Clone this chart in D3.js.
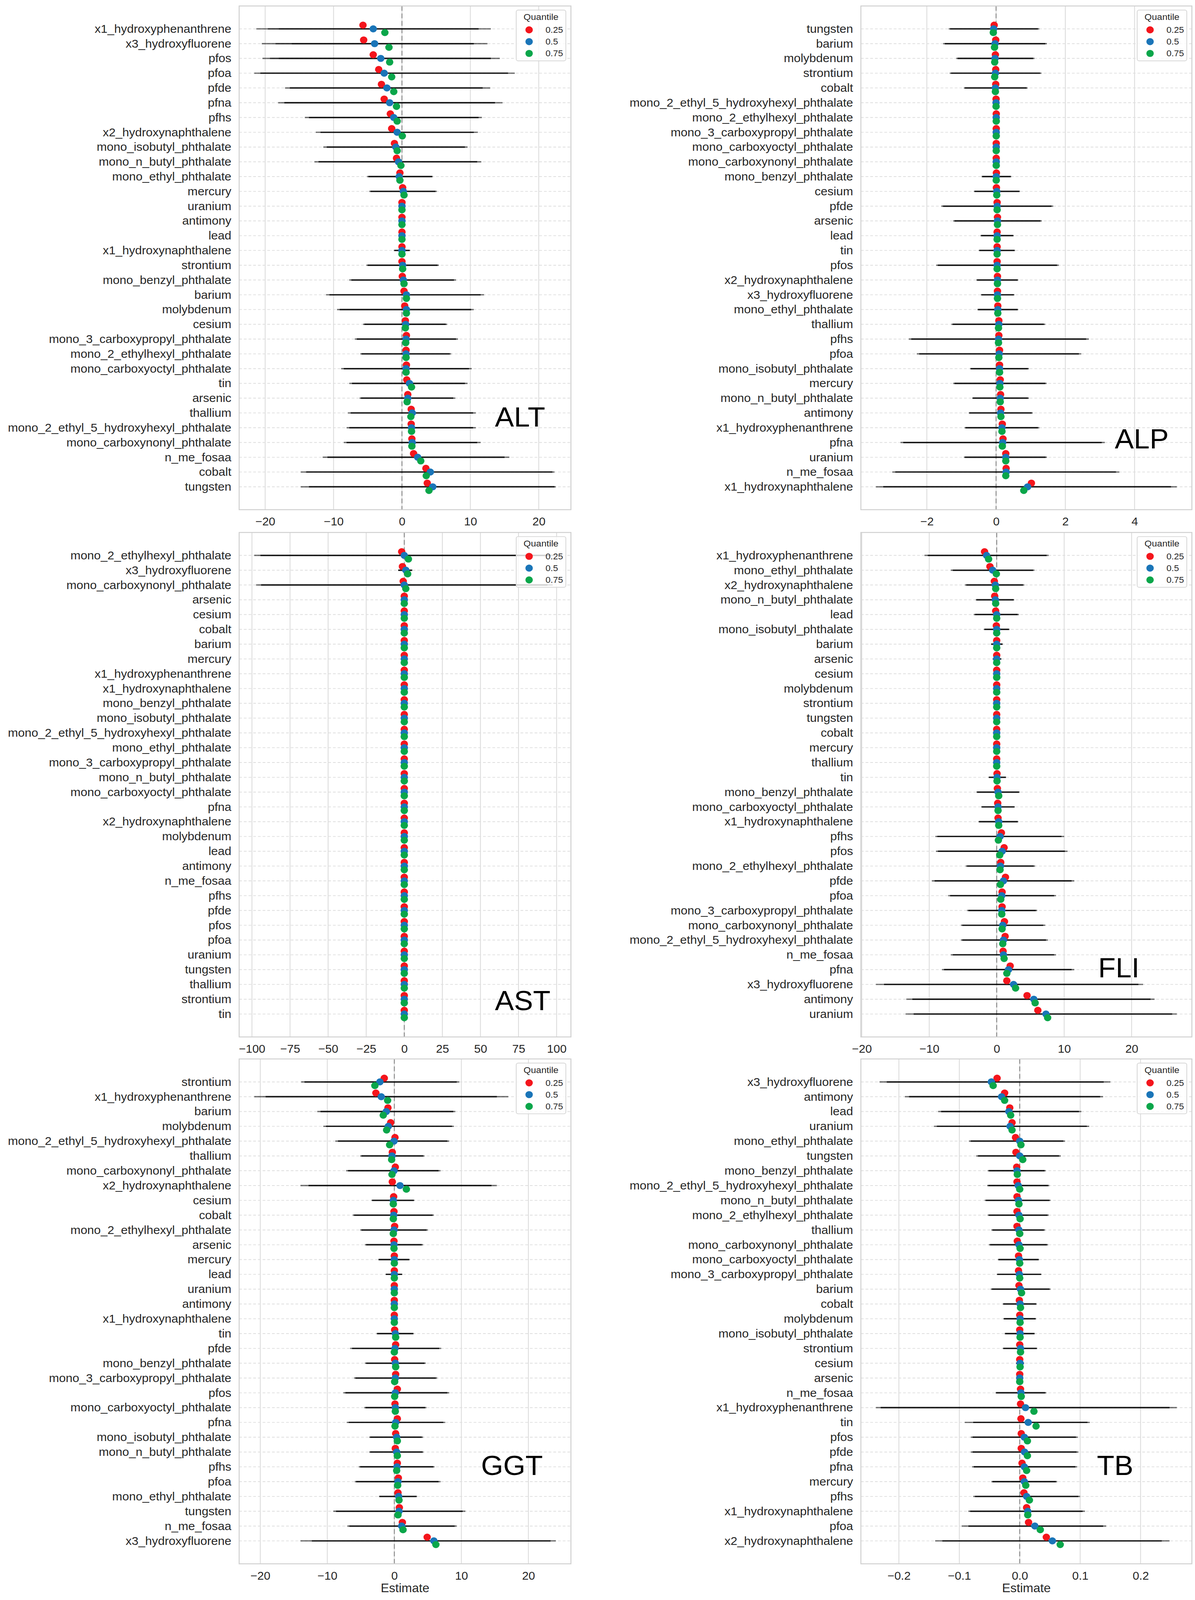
<!DOCTYPE html>
<html>
<head>
<meta charset="utf-8">
<script src="https://cdn.jsdelivr.net/npm/d3@7"></script>
<style>
  html, body { margin: 0; padding: 0; background: #fff; overflow: hidden; }
  svg { display: block; width: 100vw; height: 100vh; }
</style>
</head>
<body>
<svg id="chart"></svg>
<script>
// ---------- data ----------
const quantiles = ["0.25", "0.5", "0.75"];

const altNames = ["x1_hydroxyphenanthrene","x3_hydroxyfluorene","pfos","pfoa","pfde","pfna","pfhs","x2_hydroxynaphthalene","mono_isobutyl_phthalate","mono_n_butyl_phthalate","mono_ethyl_phthalate","mercury","uranium","antimony","lead","x1_hydroxynaphthalene","strontium","mono_benzyl_phthalate","barium","molybdenum","cesium","mono_3_carboxypropyl_phthalate","mono_2_ethylhexyl_phthalate","mono_carboxyoctyl_phthalate","tin","arsenic","thallium","mono_2_ethyl_5_hydroxyhexyl_phthalate","mono_carboxynonyl_phthalate","n_me_fosaa","cobalt","tungsten"];
const altEst = [[-5.7,-4.2,-2.5],[-5.6,-4.0,-1.9],[-4.2,-3.1,-1.8],[-3.4,-2.6,-1.5],[-3.0,-2.2,-1.2],[-2.6,-1.8,-0.8],[-1.7,-1.2,-0.7],[-1.5,-0.7,0.05],[-1.1,-0.9,-0.7],[-0.8,-0.5,-0.15],[-0.3,-0.4,-0.3],[0.1,0.2,0.3],[0,0,0],[0,0,0],[0,0,0],[0,0,0],[0,0.1,0.1],[0.05,0.2,0.3],[0.3,0.65,0.65],[0.4,0.65,0.65],[0.5,0.55,0.5],[0.65,0.6,0.55],[0.6,0.6,0.6],[0.65,0.6,0.6],[0.7,1.1,1.4],[0.85,0.85,0.75],[1.35,1.5,1.3],[1.35,1.4,1.4],[1.45,1.5,1.45],[1.7,2.3,2.75],[3.5,4.15,3.55],[3.7,4.5,3.95]];
const altLo = [[-21.3,-19.6,-18.0],[-20.5,-18.5,-16.1],[-20.4,-19.3,-18.0],[-21.6,-20.7,-20.7],[-17.1,-16.4,-16.4],[-18.1,-17.2,-17.2],[-14.2,-13.6,-13.6],[-12.6,-11.9,-11.9],[-11.5,-11.0,-11.0],[-12.8,-12.2,-12.2],[-5.1,-4.9,-4.9],[-4.8,-4.6,-4.6],[-0.3,-0.3,-0.3],[-0.3,-0.3,-0.3],[-0.3,-0.3,-0.3],[-1.2,-1.1,-1.1],[-5.2,-5.0,-5.0],[-7.7,-7.4,-7.4],[-11.1,-10.6,-10.6],[-9.5,-9.1,-9.1],[-5.7,-5.5,-5.5],[-6.9,-6.6,-6.6],[-6.1,-5.9,-5.9],[-8.9,-8.5,-8.5],[-7.7,-7.3,-7.3],[-6.2,-6.0,-6.0],[-7.9,-7.5,-7.5],[-8.1,-7.7,-7.7],[-8.5,-8.1,-8.1],[-11.6,-10.9,-10.9],[-14.8,-14.0,-14.0],[-14.8,-13.6,-13.6]];
const altHi = [[13.0,11.2,11.2],[12.5,10.5,10.5],[14.3,13.0,13.0],[16.5,15.5,15.5],[12.9,11.8,11.8],[14.7,13.6,13.6],[11.7,11.2,11.2],[11.1,10.5,10.5],[9.6,9.2,9.2],[11.6,11.0,11.0],[4.5,4.4,4.4],[5.1,4.9,4.9],[0.3,0.3,0.3],[0.3,0.3,0.3],[0.3,0.3,0.3],[1.2,1.1,1.1],[5.4,5.2,5.2],[7.9,7.6,7.6],[12.0,11.5,11.5],[10.5,10.1,10.1],[6.6,6.4,6.4],[8.2,7.9,7.9],[7.2,7.0,7.0],[10.2,9.8,9.8],[9.6,9.2,9.2],[7.8,7.5,7.5],[10.8,10.4,10.4],[10.8,10.4,10.4],[11.5,11.0,11.0],[15.7,15.0,15.0],[22.3,22.0,22.0],[22.5,22.3,22.3]];
const altTicks = [-20, -10, 0, 10, 20];

const alpNames = ["tungsten","barium","molybdenum","strontium","cobalt","mono_2_ethyl_5_hydroxyhexyl_phthalate","mono_2_ethylhexyl_phthalate","mono_3_carboxypropyl_phthalate","mono_carboxyoctyl_phthalate","mono_carboxynonyl_phthalate","mono_benzyl_phthalate","cesium","pfde","arsenic","lead","tin","pfos","x2_hydroxynaphthalene","x3_hydroxyfluorene","mono_ethyl_phthalate","thallium","pfhs","pfoa","mono_isobutyl_phthalate","mercury","mono_n_butyl_phthalate","antimony","x1_hydroxyphenanthrene","pfna","uranium","n_me_fosaa","x1_hydroxynaphthalene"];
const alpEst = [[-0.055,-0.07,-0.08],[-0.01,-0.03,-0.045],[-0.02,-0.03,-0.04],[-0.01,-0.02,-0.04],[-0.01,-0.02,-0.02],[0,0,0],[0.005,0.005,0.005],[0.005,0.005,0.005],[0.005,0.005,0.005],[0.005,0.005,0.005],[0.01,0.005,0.005],[0.01,0.02,0.02],[0.03,0.03,0.03],[0.04,0.04,0.04],[0.03,0.03,0.03],[0.03,0.03,0.03],[0.03,0.03,0.03],[0.04,0.04,0.04],[0.04,0.04,0.04],[0.05,0.05,0.05],[0.08,0.08,0.07],[0.08,0.07,0.07],[0.1,0.09,0.08],[0.1,0.1,0.1],[0.12,0.11,0.11],[0.13,0.12,0.12],[0.14,0.13,0.14],[0.18,0.17,0.17],[0.2,0.19,0.18],[0.28,0.28,0.28],[0.29,0.29,0.28],[1.02,0.91,0.8]];
const alpLo = [[-1.37,-1.33,-1.33],[-1.53,-1.48,-1.48],[-1.15,-1.11,-1.11],[-1.34,-1.3,-1.3],[-0.93,-0.9,-0.9],[-0.05,-0.05,-0.05],[-0.05,-0.05,-0.05],[-0.05,-0.05,-0.05],[-0.05,-0.05,-0.05],[-0.05,-0.05,-0.05],[-0.42,-0.4,-0.4],[-0.64,-0.62,-0.62],[-1.58,-1.53,-1.53],[-1.24,-1.2,-1.2],[-0.45,-0.43,-0.43],[-0.5,-0.48,-0.48],[-1.73,-1.68,-1.68],[-0.57,-0.55,-0.55],[-0.44,-0.42,-0.42],[-0.54,-0.52,-0.52],[-1.29,-1.25,-1.25],[-2.52,-2.45,-2.45],[-2.29,-2.22,-2.22],[-0.75,-0.73,-0.73],[-1.24,-1.2,-1.2],[-0.69,-0.67,-0.67],[-0.79,-0.77,-0.77],[-0.91,-0.88,-0.88],[-2.76,-2.68,-2.68],[-0.93,-0.9,-0.9],[-3.0,-2.91,-2.91],[-3.47,-3.26,-3.26]];
const alpHi = [[1.25,1.21,1.21],[1.47,1.42,1.42],[1.11,1.07,1.07],[1.31,1.27,1.27],[0.91,0.88,0.88],[0.05,0.05,0.05],[0.05,0.05,0.05],[0.05,0.05,0.05],[0.05,0.05,0.05],[0.05,0.05,0.05],[0.44,0.42,0.42],[0.69,0.67,0.67],[1.65,1.6,1.6],[1.32,1.28,1.28],[0.51,0.49,0.49],[0.55,0.53,0.53],[1.81,1.76,1.76],[0.64,0.62,0.62],[0.53,0.51,0.51],[0.64,0.62,0.62],[1.42,1.38,1.38],[2.68,2.6,2.6],[2.46,2.39,2.39],[0.95,0.92,0.92],[1.46,1.42,1.42],[0.95,0.92,0.92],[1.06,1.03,1.03],[1.25,1.21,1.21],[3.14,3.05,3.05],[1.47,1.43,1.43],[3.56,3.46,3.46],[5.22,5.05,5.05]];
const alpTicks = [-2, 0, 2, 4];

const astNames = ["mono_2_ethylhexyl_phthalate","x3_hydroxyfluorene","mono_carboxynonyl_phthalate","arsenic","cesium","cobalt","barium","mercury","x1_hydroxyphenanthrene","x1_hydroxynaphthalene","mono_benzyl_phthalate","mono_isobutyl_phthalate","mono_2_ethyl_5_hydroxyhexyl_phthalate","mono_ethyl_phthalate","mono_3_carboxypropyl_phthalate","mono_n_butyl_phthalate","mono_carboxyoctyl_phthalate","pfna","x2_hydroxynaphthalene","molybdenum","lead","antimony","n_me_fosaa","pfhs","pfde","pfos","pfoa","uranium","tungsten","thallium","strontium","tin"];
const astEst = [[-1.7,0,2.7],[-1.2,1.0,2.2],[-0.7,0,1.0],[0,0,0],[0,0,0],[0,0,0],[0,0,0],[0,0,0],[0,0,0],[0,0,0],[0,0,0],[0,0,0],[0,0,0],[0,0,0],[0,0,0],[0,0,0],[0,0,0],[0,0,0],[0,0,0],[0,0,0],[0,0,0],[0,0,0],[0,0,0],[0,0,0],[0,0,0],[0,0,0],[0,0,0],[0,0,0],[0,0,0],[0,0,0],[0,0,0],[0,0,0]];
const astLo = [[-98.5,-94.4,-94.4],[-4.1,-3.9,-3.9],[-97.3,-94,-94],[-0.5,-0.5,-0.5],[-0.5,-0.5,-0.5],[-0.5,-0.5,-0.5],[-0.5,-0.5,-0.5],[-0.5,-0.5,-0.5],[-0.5,-0.5,-0.5],[-0.5,-0.5,-0.5],[-0.5,-0.5,-0.5],[-0.5,-0.5,-0.5],[-0.5,-0.5,-0.5],[-0.5,-0.5,-0.5],[-0.5,-0.5,-0.5],[-0.5,-0.5,-0.5],[-0.5,-0.5,-0.5],[-0.5,-0.5,-0.5],[-0.5,-0.5,-0.5],[-0.5,-0.5,-0.5],[-0.5,-0.5,-0.5],[-0.5,-0.5,-0.5],[-0.5,-0.5,-0.5],[-0.5,-0.5,-0.5],[-0.5,-0.5,-0.5],[-0.5,-0.5,-0.5],[-0.5,-0.5,-0.5],[-0.5,-0.5,-0.5],[-0.5,-0.5,-0.5],[-0.5,-0.5,-0.5],[-0.5,-0.5,-0.5],[-0.5,-0.5,-0.5]];
const astHi = [[99.5,96,96],[5.3,5.1,5.1],[97.5,94,94],[0.5,0.5,0.5],[0.5,0.5,0.5],[0.5,0.5,0.5],[0.5,0.5,0.5],[0.5,0.5,0.5],[0.5,0.5,0.5],[0.5,0.5,0.5],[0.5,0.5,0.5],[0.5,0.5,0.5],[0.5,0.5,0.5],[0.5,0.5,0.5],[0.5,0.5,0.5],[0.5,0.5,0.5],[0.5,0.5,0.5],[0.5,0.5,0.5],[0.5,0.5,0.5],[0.5,0.5,0.5],[0.5,0.5,0.5],[0.5,0.5,0.5],[0.5,0.5,0.5],[0.5,0.5,0.5],[0.5,0.5,0.5],[0.5,0.5,0.5],[0.5,0.5,0.5],[0.5,0.5,0.5],[0.5,0.5,0.5],[0.5,0.5,0.5],[0.5,0.5,0.5],[0.5,0.5,0.5]];
const astTicks = [-100, -75, -50, -25, 0, 25, 50, 75, 100];

const fliNames = ["x1_hydroxyphenanthrene","mono_ethyl_phthalate","x2_hydroxynaphthalene","mono_n_butyl_phthalate","lead","mono_isobutyl_phthalate","barium","arsenic","cesium","molybdenum","strontium","tungsten","cobalt","mercury","thallium","tin","mono_benzyl_phthalate","mono_carboxyoctyl_phthalate","x1_hydroxynaphthalene","pfhs","pfos","mono_2_ethylhexyl_phthalate","pfde","pfoa","mono_3_carboxypropyl_phthalate","mono_carboxynonyl_phthalate","mono_2_ethyl_5_hydroxyhexyl_phthalate","n_me_fosaa","pfna","x3_hydroxyfluorene","antimony","uranium"];
const fliEst = [[-1.8,-1.5,-1.2],[-1.0,-0.6,-0.05],[-0.35,-0.2,-0.15],[-0.3,-0.2,-0.15],[-0.15,0,0],[-0.05,0,0],[0,0,0],[0,0,0],[0,0,0],[0,0,0],[0,0,0],[0,0,0],[0,0,0],[0,0,0],[0,0,0],[0.05,0.05,0.05],[0.1,0.2,0.3],[0.15,0.2,0.2],[0.2,0.3,0.3],[0.7,0.5,0.25],[1.1,0.8,0.45],[0.6,0.55,0.5],[1.3,1.0,0.55],[0.8,0.75,0.6],[0.8,0.75,0.75],[1.15,0.9,0.8],[1.25,1.0,0.9],[0.95,1.0,1.1],[2.0,1.75,1.5],[1.5,2.5,2.8],[4.5,5.5,5.7],[6.1,7.3,7.55]];
const fliLo = [[-10.7,-10.2,-10.2],[-6.8,-6.5,-6.5],[-4.7,-4.5,-4.5],[-3.1,-3.0,-3.0],[-3.4,-3.2,-3.2],[-1.9,-1.8,-1.8],[-0.85,-0.8,-0.8],[-0.6,-0.55,-0.55],[-0.3,-0.3,-0.3],[-0.3,-0.3,-0.3],[-0.3,-0.3,-0.3],[-0.3,-0.3,-0.3],[-0.3,-0.3,-0.3],[-0.3,-0.3,-0.3],[-0.3,-0.3,-0.3],[-1.2,-1.15,-1.15],[-3.0,-2.9,-2.9],[-2.3,-2.2,-2.2],[-2.7,-2.6,-2.6],[-9.1,-8.8,-8.8],[-9.0,-8.7,-8.7],[-4.6,-4.4,-4.4],[-9.6,-9.2,-9.2],[-7.2,-6.9,-6.9],[-4.4,-4.2,-4.2],[-5.3,-5.1,-5.1],[-5.3,-5.1,-5.1],[-6.8,-6.5,-6.5],[-8.1,-7.8,-7.8],[-17.9,-16.7,-16.7],[-13.4,-12.5,-12.5],[-13.5,-12.3,-12.3]];
const fliHi = [[7.7,7.4,7.4],[5.6,5.4,5.4],[4.1,3.9,3.9],[2.6,2.5,2.5],[3.3,3.1,3.1],[1.9,1.8,1.8],[0.9,0.85,0.85],[0.7,0.65,0.65],[0.3,0.3,0.3],[0.3,0.3,0.3],[0.3,0.3,0.3],[0.3,0.3,0.3],[0.3,0.3,0.3],[0.3,0.3,0.3],[0.3,0.3,0.3],[1.4,1.35,1.35],[3.4,3.3,3.3],[2.7,2.6,2.6],[3.2,3.1,3.1],[10.0,9.6,9.6],[10.5,10.1,10.1],[5.7,5.5,5.5],[11.5,11.1,11.1],[8.8,8.5,8.5],[6.0,5.8,5.8],[7.2,6.9,6.9],[7.6,7.3,7.3],[8.8,8.5,8.5],[11.5,11.1,11.1],[21.7,21.0,21.0],[23.4,22.8,22.8],[26.7,26.0,26.0]];
const fliTicks = [-20, -10, 0, 10, 20];

const ggtNames = ["strontium","x1_hydroxyphenanthrene","barium","molybdenum","mono_2_ethyl_5_hydroxyhexyl_phthalate","thallium","mono_carboxynonyl_phthalate","x2_hydroxynaphthalene","cesium","cobalt","mono_2_ethylhexyl_phthalate","arsenic","mercury","lead","uranium","antimony","x1_hydroxynaphthalene","tin","pfde","mono_benzyl_phthalate","mono_3_carboxypropyl_phthalate","pfos","mono_carboxyoctyl_phthalate","pfna","mono_isobutyl_phthalate","mono_n_butyl_phthalate","pfhs","pfoa","mono_ethyl_phthalate","tungsten","n_me_fosaa","x3_hydroxyfluorene"];
const ggtEst = [[-1.5,-2.15,-2.9],[-2.75,-1.95,-1.0],[-0.95,-1.2,-1.65],[-0.55,-0.9,-1.15],[0.1,-0.05,-0.7],[-0.3,-0.35,-0.4],[0.15,-0.05,-0.35],[-0.3,0.85,1.8],[-0.1,-0.15,-0.15],[-0.05,-0.1,-0.15],[0.05,-0.05,-0.15],[-0.05,-0.05,-0.05],[0,0,0],[0,0,0],[0,0,0],[0,0,0],[0,0,0],[0.05,0.15,0.2],[0.2,0.1,0.0],[0.05,0.15,0.2],[0.2,0.15,0.05],[0.45,0.15,0.05],[0.1,0.15,0.15],[0.45,0.2,0.1],[0.2,0.35,0.45],[0.15,0.35,0.45],[0.45,0.4,0.35],[0.6,0.55,0.5],[0.55,0.65,0.7],[0.75,0.7,0.55],[1.2,1.1,1.3],[4.9,5.9,6.2]];
const ggtLo = [[-13.9,-13.4,-13.4],[-20.9,-19.2,-19.2],[-11.5,-11.0,-11.0],[-10.6,-10.2,-10.2],[-8.8,-8.4,-8.4],[-5.1,-4.9,-4.9],[-7.2,-6.9,-6.9],[-14.0,-12.8,-12.8],[-3.4,-3.3,-3.3],[-6.2,-6.0,-6.0],[-5.1,-4.9,-4.9],[-4.4,-4.2,-4.2],[-2.4,-2.3,-2.3],[-1.3,-1.25,-1.25],[-0.3,-0.3,-0.3],[-0.3,-0.3,-0.3],[-0.3,-0.3,-0.3],[-2.65,-2.55,-2.55],[-6.6,-6.3,-6.3],[-4.4,-4.2,-4.2],[-6.0,-5.8,-5.8],[-7.6,-7.3,-7.3],[-4.5,-4.3,-4.3],[-7.1,-6.8,-6.8],[-3.75,-3.6,-3.6],[-3.75,-3.6,-3.6],[-5.3,-5.1,-5.1],[-5.9,-5.7,-5.7],[-2.3,-2.2,-2.2],[-9.1,-8.7,-8.7],[-7.0,-6.7,-6.7],[-14.0,-12.3,-12.3]];
const ggtHi = [[9.7,9.3,9.3],[17.0,15.3,15.3],[9.1,8.8,8.8],[8.9,8.6,8.6],[8.2,7.9,7.9],[4.5,4.3,4.3],[6.9,6.6,6.6],[15.3,14.5,14.5],[3.0,2.9,2.9],[5.9,5.7,5.7],[5.0,4.8,4.8],[4.3,4.1,4.1],[2.3,2.2,2.2],[1.2,1.15,1.15],[0.3,0.3,0.3],[0.3,0.3,0.3],[0.3,0.3,0.3],[2.9,2.8,2.8],[7.0,6.7,6.7],[4.7,4.5,4.5],[6.4,6.2,6.2],[8.2,7.9,7.9],[4.8,4.6,4.6],[7.6,7.3,7.3],[4.3,4.1,4.1],[4.35,4.2,4.2],[6.0,5.8,5.8],[6.9,6.6,6.6],[3.4,3.3,3.3],[10.6,10.2,10.2],[9.3,9.0,9.0],[24.1,23.3,23.3]];
const ggtTicks = [-20, -10, 0, 10, 20];

const tbNames = ["x3_hydroxyfluorene","antimony","lead","uranium","mono_ethyl_phthalate","tungsten","mono_benzyl_phthalate","mono_2_ethyl_5_hydroxyhexyl_phthalate","mono_n_butyl_phthalate","mono_2_ethylhexyl_phthalate","thallium","mono_carboxynonyl_phthalate","mono_carboxyoctyl_phthalate","mono_3_carboxypropyl_phthalate","barium","cobalt","molybdenum","mono_isobutyl_phthalate","strontium","cesium","arsenic","n_me_fosaa","x1_hydroxyphenanthrene","tin","pfos","pfde","pfna","mercury","pfhs","x1_hydroxynaphthalene","pfoa","x2_hydroxynaphthalene"];
const tbEst = [[-0.0375,-0.047,-0.044],[-0.025,-0.030,-0.025],[-0.0165,-0.018,-0.015],[-0.0127,-0.016,-0.0127],[-0.007,0.0,0.002],[-0.0063,0.0,0.005],[-0.005,-0.0045,-0.004],[-0.0045,-0.0025,0.0],[-0.0045,-0.002,-0.0013],[-0.0045,-0.0013,0.0006],[-0.0045,-0.0013,0.0],[-0.004,-0.0013,0.0006],[-0.002,-0.0006,0.0],[-0.002,-0.0006,0.0],[-0.0013,0.0013,0.003],[-0.0006,0.0006,0.0013],[0.0,0.0006,0.0006],[0.0,0.0006,0.0006],[0.0,0.0013,0.0013],[0.0,0.0006,0.0006],[0,0,0],[0.0013,0.002,0.0025],[0.0013,0.0095,0.0235],[0.002,0.014,0.027],[0.0025,0.0076,0.0127],[0.0025,0.008,0.0127],[0.0038,0.0076,0.0114],[0.005,0.0076,0.010],[0.007,0.0114,0.016],[0.0114,0.0133,0.0133],[0.0146,0.025,0.034],[0.044,0.054,0.067]];
const tbLo = [[-0.232,-0.22,-0.22],[-0.190,-0.183,-0.183],[-0.135,-0.130,-0.130],[-0.142,-0.137,-0.137],[-0.084,-0.081,-0.081],[-0.072,-0.069,-0.069],[-0.053,-0.051,-0.051],[-0.054,-0.052,-0.052],[-0.058,-0.056,-0.056],[-0.053,-0.051,-0.051],[-0.047,-0.045,-0.045],[-0.051,-0.049,-0.049],[-0.036,-0.035,-0.035],[-0.038,-0.037,-0.037],[-0.048,-0.046,-0.046],[-0.028,-0.027,-0.027],[-0.027,-0.026,-0.026],[-0.025,-0.024,-0.024],[-0.028,-0.027,-0.027],[-0.006,-0.006,-0.006],[-0.003,-0.003,-0.003],[-0.040,-0.039,-0.039],[-0.238,-0.230,-0.230],[-0.091,-0.077,-0.077],[-0.081,-0.078,-0.078],[-0.081,-0.078,-0.078],[-0.079,-0.076,-0.076],[-0.047,-0.045,-0.045],[-0.077,-0.074,-0.074],[-0.085,-0.082,-0.082],[-0.096,-0.085,-0.085],[-0.140,-0.128,-0.128]];
const tbHi = [[0.150,0.139,0.139],[0.138,0.133,0.133],[0.102,0.098,0.098],[0.115,0.111,0.111],[0.075,0.072,0.072],[0.068,0.065,0.065],[0.043,0.041,0.041],[0.049,0.047,0.047],[0.051,0.049,0.049],[0.048,0.046,0.046],[0.042,0.040,0.040],[0.047,0.045,0.045],[0.032,0.031,0.031],[0.036,0.035,0.035],[0.051,0.049,0.049],[0.028,0.027,0.027],[0.027,0.026,0.026],[0.025,0.024,0.024],[0.029,0.028,0.028],[0.007,0.007,0.007],[0.003,0.003,0.003],[0.044,0.042,0.042],[0.260,0.248,0.248],[0.116,0.112,0.112],[0.096,0.093,0.093],[0.097,0.094,0.094],[0.095,0.092,0.092],[0.062,0.060,0.060],[0.100,0.097,0.097],[0.108,0.104,0.104],[0.143,0.138,0.138],[0.248,0.235,0.235]];
const tbTicks = [-0.2, -0.1, 0.0, 0.1, 0.2];

// ---------- layout & style ----------
const W = 3058, H = 4288;
const FONT = "'Liberation Sans', Arial, Helvetica, sans-serif";
const qColor = d3.scaleOrdinal().domain(quantiles).range(["#f4151c", "#1a75b8", "#0aa64a"]);

const panels = [
  { title: "ALT", names: altNames, est: altEst, lo: altLo, hi: altHi, ticks: altTicks, fmt: d3.format("d"),
    frame: [612, 1461, 16, 1366], titleAt: [0.771, 0.835] },
  { title: "ALP", names: alpNames, est: alpEst, lo: alpLo, hi: alpHi, ticks: alpTicks, fmt: d3.format("d"),
    frame: [2203, 3050, 16, 1366], titleAt: [0.767, 0.878] },
  { title: "AST", names: astNames, est: astEst, lo: astLo, hi: astHi, ticks: astTicks, fmt: d3.format("d"),
    frame: [612, 1461, 1427, 2779], titleAt: [0.771, 0.947] },
  { title: "FLI", names: fliNames, est: fliEst, lo: fliLo, hi: fliHi, ticks: fliTicks, fmt: d3.format("d"),
    frame: [2203, 3050, 1427, 2779], titleAt: [0.717, 0.882] },
  { title: "GGT", names: ggtNames, est: ggtEst, lo: ggtLo, hi: ggtHi, ticks: ggtTicks, fmt: d3.format("d"),
    frame: [612, 1461, 2838, 4191], titleAt: [0.729, 0.824], xlabel: "Estimate" },
  { title: "TB", names: tbNames, est: tbEst, lo: tbLo, hi: tbHi, ticks: tbTicks, fmt: d3.format(".1f"),
    frame: [2203, 3050, 2838, 4191], titleAt: [0.713, 0.824], xlabel: "Estimate" }
];

// the drawing lives in a 3058x4288 coordinate box stretched over the viewport,
// so the whole figure stays visible whatever the visible window height is
const svg = d3.select("#chart")
  .attr("viewBox", `0 0 ${W} ${H}`)
  .attr("preserveAspectRatio", "none")
  .style("font-family", FONT);

svg.append("rect").attr("width", W).attr("height", H).attr("fill", "#fff");

function drawPanel(p) {
  const [x0, x1, y0, y1] = p.frame;

  // matplotlib-style auto limits: data extent + 5% margin
  const mn = d3.min(p.lo.flat()), mx = d3.max(p.hi.flat());
  const pad = (mx - mn) * 0.05;
  const x = d3.scaleLinear().domain([mn - pad, mx + pad]).range([x0, x1]);
  const y = d3.scalePoint().domain(p.names).range([y0, y1]).padding(1.55);
  const dodge = y.step() * 0.25;

  const g = svg.append("g");

  // vertical grid
  g.selectAll(".vgrid").data(p.ticks).join("line")
    .attr("x1", d => x(d)).attr("x2", d => x(d))
    .attr("y1", y0).attr("y2", y1)
    .attr("stroke", "#dcdcdc").attr("stroke-width", 2.2);

  // horizontal dashed grid
  g.selectAll(".hgrid").data(p.names).join("line")
    .attr("x1", x0).attr("x2", x1)
    .attr("y1", d => y(d)).attr("y2", d => y(d))
    .attr("stroke", "#dedede").attr("stroke-width", 2)
    .attr("stroke-dasharray", "7,5");

  // zero reference
  g.append("line")
    .attr("x1", x(0)).attr("x2", x(0))
    .attr("y1", y0).attr("y2", y1)
    .attr("stroke", "#8a8a8a").attr("stroke-width", 2.4)
    .attr("stroke-dasharray", "13,7");

  // confidence intervals, one per quantile, overlapping
  const ci = [];
  p.names.forEach((n, i) => quantiles.forEach((q, k) => ci.push({ n, lo: p.lo[i][k], hi: p.hi[i][k] })));
  g.selectAll(".ci").data(ci).join("line")
    .attr("x1", d => x(d.lo)).attr("x2", d => x(d.hi))
    .attr("y1", d => y(d.n)).attr("y2", d => y(d.n))
    .attr("stroke", "#000").attr("stroke-opacity", 0.55)
    .attr("stroke-width", 3.6);

  // point estimates, dodged by quantile
  quantiles.forEach((q, k) => {
    g.selectAll(".pt" + k).data(p.names).join("circle")
      .attr("cx", (d, i) => x(p.est[i][k]))
      .attr("cy", d => y(d) + (k - 1) * dodge)
      .attr("r", 9.5)
      .attr("fill", qColor(q));
  });

  // frame
  g.append("rect")
    .attr("x", x0).attr("y", y0)
    .attr("width", x1 - x0).attr("height", y1 - y0)
    .attr("fill", "none").attr("stroke", "#cfcfcf").attr("stroke-width", 2.5);

  // y axis labels
  const ya = g.append("g")
    .attr("transform", `translate(${x0},0)`)
    .call(d3.axisLeft(y).tickSize(0).tickPadding(20));
  ya.select(".domain").remove();
  ya.attr("font-size", 31).attr("font-family", FONT).style("color", "#262626");

  // x axis labels
  const xa = g.append("g")
    .attr("transform", `translate(0,${y1})`)
    .call(d3.axisBottom(x).tickValues(p.ticks).tickFormat(p.fmt).tickSize(0).tickPadding(21));
  xa.select(".domain").remove();
  xa.attr("font-size", 30).attr("font-family", FONT).style("color", "#262626");

  if (p.xlabel) {
    g.append("text")
      .attr("x", (x0 + x1) / 2).attr("y", y1 + 76)
      .attr("text-anchor", "middle")
      .attr("font-size", 32).attr("fill", "#262626")
      .text(p.xlabel);
  }

  // panel title
  g.append("text")
    .attr("x", x0 + (x1 - x0) * p.titleAt[0])
    .attr("y", y0 + (y1 - y0) * p.titleAt[1])
    .attr("font-size", 73).attr("fill", "#000")
    .style("font-kerning", "normal")
    .text(p.title);

  // legend
  const lw = 127, lh = 136;
  const lg = g.append("g").attr("transform", `translate(${x1 - 13 - lw},${y0 + 11})`);
  lg.append("rect")
    .attr("width", lw).attr("height", lh).attr("rx", 5)
    .attr("fill", "#fff").attr("fill-opacity", 0.8)
    .attr("stroke", "#d6d6d6").attr("stroke-width", 2);
  lg.append("text")
    .attr("x", lw / 2).attr("y", 18).attr("dy", "0.35em")
    .attr("text-anchor", "middle").attr("font-size", 24).attr("fill", "#262626")
    .text("Quantile");
  const items = lg.selectAll(".item").data(quantiles).join("g")
    .attr("transform", (d, k) => `translate(0,${53 + k * 31.6})`);
  items.append("circle").attr("cx", 33).attr("r", 9.5).attr("fill", d => qColor(d));
  items.append("text")
    .attr("x", 75).attr("dy", "0.35em")
    .attr("font-size", 23).attr("fill", "#262626")
    .text(d => d);
}

panels.forEach(drawPanel);
</script>
</body>
</html>
